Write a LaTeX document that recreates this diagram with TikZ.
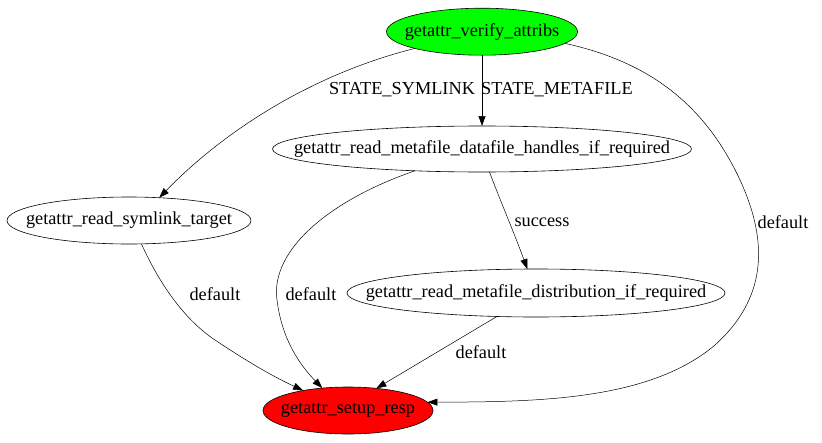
\documentclass[tikz,border=0pt]{standalone}
\usepackage{fontspec}
\setmainfont{Liberation Serif}
\usetikzlibrary{shapes.geometric,arrows.meta}
\begin{document}
\begin{tikzpicture}[x=1pt,y=-1pt,
  st/.style={ellipse,draw,inner sep=0pt,outer sep=0pt,line width=0.6pt},
  lbl/.style={font=\fontsize{18.3}{20}\selectfont,inner sep=0pt},
  edge/.style={draw,line width=0.5pt,-{Triangle[length=10pt,width=7pt]}}]
\useasboundingbox (0,0) rectangle (822,442);
\tikzset{every label/.style={font=\fontsize{18.3}{20}\selectfont,inner sep=0pt}}
\node[st,fill=green,minimum width=191pt,minimum height=47pt,label=center:{getattr\_verify\_attribs}] (v) at (482,31.7) {};
\node[st,minimum width=419pt,minimum height=46pt,label=center:{getattr\_read\_metafile\_datafile\_handles\_if\_required}] (d) at (482,149) {};
\node[st,minimum width=244pt,minimum height=47pt,label=center:{getattr\_read\_symlink\_target}] (sym) at (129,220.5) {};
\node[st,minimum width=378pt,minimum height=48pt,label=center:{getattr\_read\_metafile\_distribution\_if\_required}] (dist) at (536,293) {};
\node[st,fill=red,minimum width=170pt,minimum height=47pt,label=center:{getattr\_setup\_resp}] (s) at (348,410.5) {};

\draw[edge] (v.194) .. controls (320,72) and (230,125) .. (sym.37);
\draw[edge] (v.south) -- (d.north);
\draw[edge] (v.-8) .. controls (650,62) and (705,105) .. (740,180) .. controls (770,245) and (765,300) .. (715,345) .. controls (650,400) and (540,402) .. (s.6);
\draw[edge] (d.198) .. controls (330,200) and (270,250) .. (277,300) .. controls (282,340) and (300,365) .. (s.139);
\draw[edge] (d.-72) .. controls (500,200) and (515,235) .. (dist.110.6);
\draw[edge] (sym.-62) .. controls (160,285) and (185,320) .. (215,340) .. controls (245,360) and (270,375) .. (s.156);
\draw[edge] (dist.211.6) -- (s.38);

\node[lbl] (l1) at (402,90) {STATE\_SYMLINK};
\node[lbl] (l2) at (557,90) {STATE\_METAFILE};
\node[lbl] (l3) at (783,222) {default};
\node[lbl] (l4) at (542,222) {success};
\node[lbl] (l5) at (311,294) {default};
\node[lbl] (l6) at (215,294) {default};
\node[lbl] (l7) at (481,352) {default};
\end{tikzpicture}
\end{document}
